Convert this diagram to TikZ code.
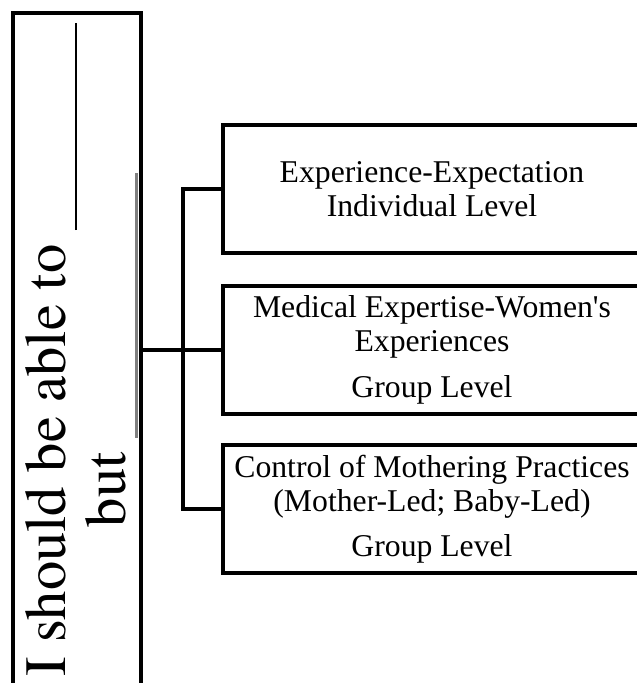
\documentclass[tikz,border=0pt]{standalone}
\usepackage{fontspec}
\setmainfont{Liberation Serif}
\newfontfamily\stemfont{TeX Gyre Termes}
\begin{document}
\begin{tikzpicture}[x=1pt,y=-1pt,
  stembox/.style={draw,line width=3.9pt,minimum width=128pt,minimum height=674pt,inner sep=0pt},
  stemtext/.style={rotate=90,anchor=base,inner sep=0pt,font=\stemfont\fontsize{58.5}{60}\selectfont},
  catbox/.style={draw,line width=3.9pt,minimum width=418pt,minimum height=128pt,inner sep=2pt,
    align=center,font=\fontsize{31.7}{34}\selectfont},
  link/.style={line width=3.5pt}]
\useasboundingbox (0,0) rectangle (637,683);
\clip (0,0) rectangle (637,683);

% left stem
\node [stembox] (stem) at (77,350) {};
\node [stemtext] (stemtop) at (65,350) {I should be able to \rule[-12pt]{207pt}{2pt}};
\node [stemtext] (stembot) at (125,350) {but \textcolor{gray}{\rule[-13pt]{265pt}{2.6pt}}};

% categories
\node [catbox] (expect) at (432,189) {Experience-Expectation\\Individual Level};
\node [catbox] (medical) at (432,350) {Medical Expertise-Women\textquotesingle s\\Experiences\\[12pt]Group Level};
\node [catbox] (mothering) at (432,509) {Control of Mothering Practices\\(Mother-Led; Baby-Led)\\[11pt]Group Level};

\coordinate (hub) at (183,350);
\draw [link] (stem.east) -- (medical.west);
\draw [link] (expect.west) -| (hub) |- (mothering.west);
\end{tikzpicture}
\end{document}
